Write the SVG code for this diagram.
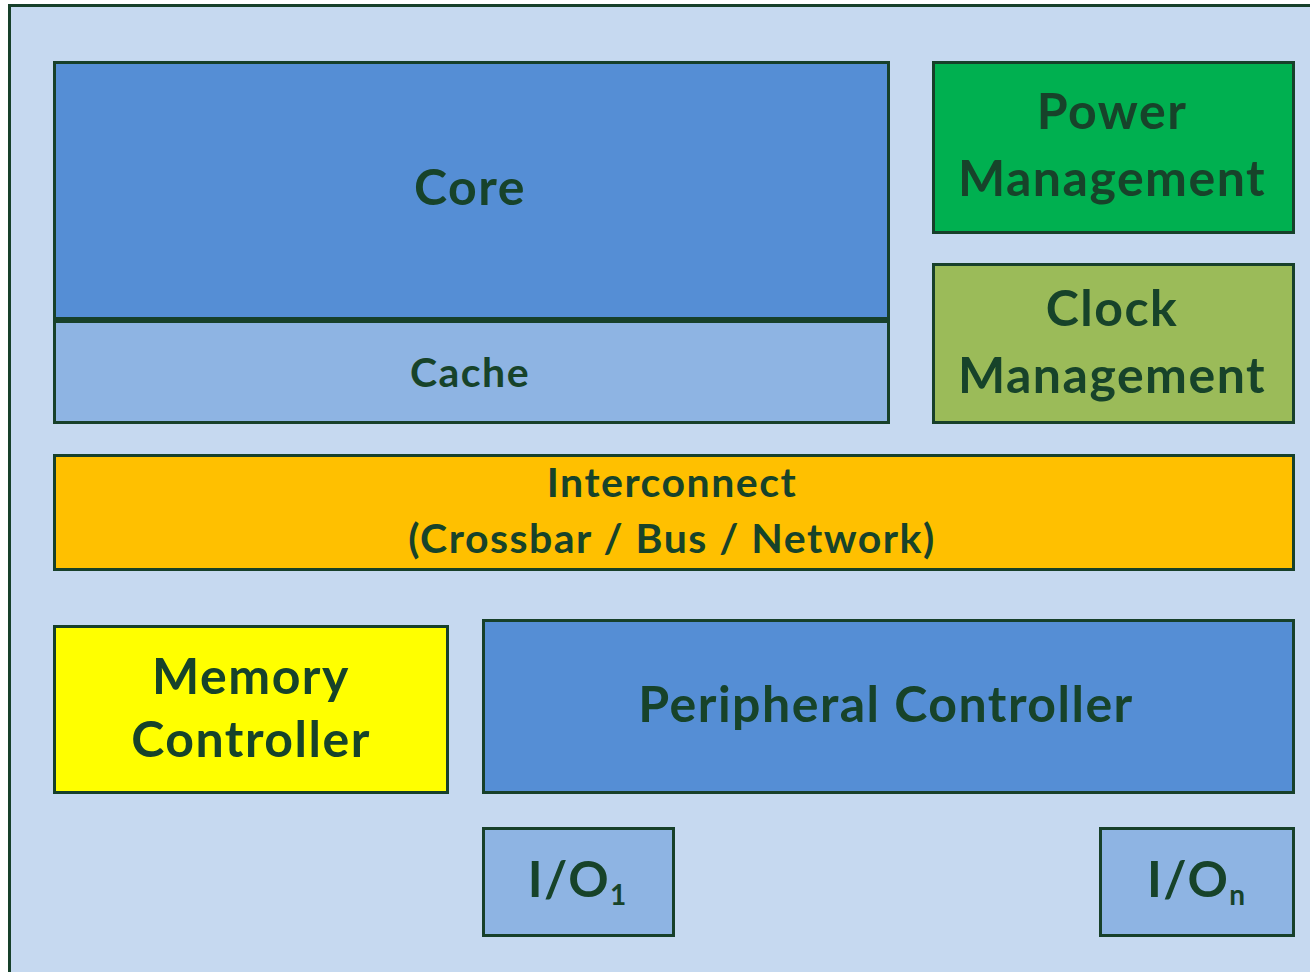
<svg xmlns="http://www.w3.org/2000/svg" width="1310" height="972" viewBox="0 0 1310 972">
  <style>
    .box { stroke: #17402a; stroke-width: 3; }
    .lbl { font-family: Lato, "Open Sans", "Liberation Sans", sans-serif; font-weight: 700; fill: #17432a; text-anchor: middle; }
    .big { font-size: 50px; letter-spacing: 1.5px; }
    .mid { font-size: 41px; letter-spacing: 1.5px; }
    .sub { font-size: 28px; letter-spacing: 0; }
  </style>
  <!-- chip outline -->
  <rect x="9.5" y="5.5" width="1320" height="980" fill="#c6d9f0" class="box"/>

  <g id="core">
    <rect x="54.5" y="62.5" width="834" height="256" fill="#558ed5" class="box"/>
    <text x="470" y="205" class="lbl big">Core</text>
  </g>
  <g id="cache">
    <rect x="54.5" y="321.5" width="834" height="101" fill="#8eb4e3" class="box"/>
    <text x="470" y="387" class="lbl mid">Cache</text>
  </g>
  <g id="power">
    <rect x="933.5" y="62.5" width="360" height="170" fill="#00b050" class="box"/>
    <text x="1112" y="129" class="lbl big">Power</text>
    <text x="1112" y="196" class="lbl big">Management</text>
  </g>
  <g id="clock">
    <rect x="933.5" y="264.5" width="360" height="158" fill="#9bbb59" class="box"/>
    <text x="1112" y="326" class="lbl big">Clock</text>
    <text x="1112" y="393" class="lbl big">Management</text>
  </g>
  <g id="interconnect">
    <rect x="54.5" y="455.5" width="1239" height="114" fill="#ffc000" class="box"/>
    <text x="672" y="497" class="lbl mid">Interconnect</text>
    <text x="672" y="553" class="lbl mid">(Crossbar / Bus / Network)</text>
  </g>
  <g id="memory">
    <rect x="54.5" y="626.5" width="393" height="166" fill="#ffff00" class="box"/>
    <text x="251" y="694" class="lbl big">Memory</text>
    <text x="251" y="757" class="lbl big">Controller</text>
  </g>
  <g id="peripheral">
    <rect x="483.5" y="620.5" width="810" height="172" fill="#558ed5" class="box"/>
    <text x="886" y="722" class="lbl big">Peripheral Controller</text>
  </g>
  <g id="io1">
    <rect x="483.5" y="828.5" width="190" height="107" fill="#8eb4e3" class="box"/>
    <text x="577" y="897" class="lbl big">I/O<tspan class="sub" dy="8">1</tspan></text>
  </g>
  <g id="ion">
    <rect x="1100.5" y="828.5" width="193" height="107" fill="#8eb4e3" class="box"/>
    <text x="1196" y="897" class="lbl big">I/O<tspan class="sub" dy="8">n</tspan></text>
  </g>
  <g id="connectors"/>
</svg>
